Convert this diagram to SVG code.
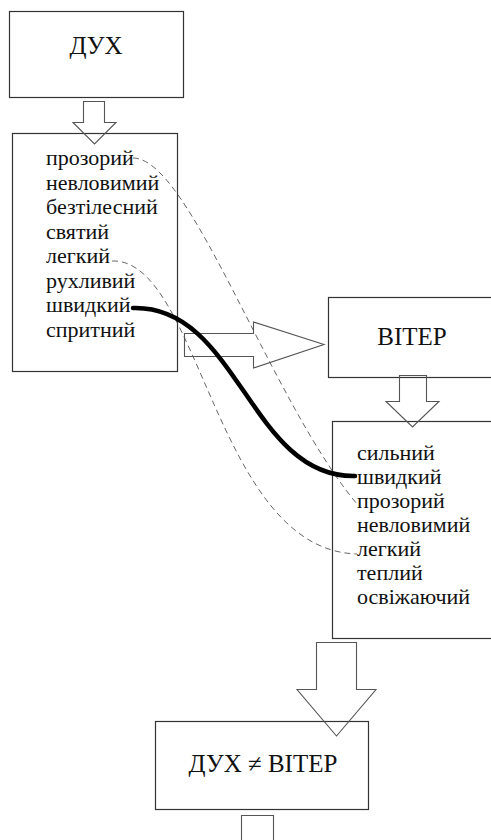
<svg xmlns="http://www.w3.org/2000/svg" width="491" height="840" viewBox="0 0 491 840">
<style>
.box{fill:#fff;stroke:#333;stroke-width:1.2}
.arr{fill:none;stroke:#555;stroke-width:1.1;stroke-linejoin:miter}
text{fill:#111}
.big{font-size:25px;text-anchor:middle}
.lst{font-size:22px}
.dash{fill:none;stroke:#555;stroke-width:0.9;stroke-dasharray:6 4}
.thick{fill:none;stroke:#000;stroke-width:4.5;stroke-linecap:round}
</style>
<rect width="491" height="840" fill="#fff"/>
<g id="n-dukh" font-family="Liberation Serif, serif">
<rect class="box" x="9.5" y="11.5" width="174" height="86"/>
<text class="big" x="96" y="54">ДУХ</text>
</g>
<g id="n-list-dukh" font-family="Liberation Serif, serif">
<rect class="box" x="12.5" y="133.5" width="165" height="238"/>
<text class="lst" x="46" y="165">прозорий</text>
<text class="lst" x="46" y="189.5">невловимий</text>
<text class="lst" x="46" y="214">безтілесний</text>
<text class="lst" x="46" y="238.5">святий</text>
<text class="lst" x="46" y="263">легкий</text>
<text class="lst" x="46" y="287.5">рухливий</text>
<text class="lst" x="46" y="312">швидкий</text>
<text class="lst" x="46" y="336.5">спритний</text>
</g>
<g id="n-viter" font-family="Liberation Serif, serif">
<rect class="box" x="328.5" y="297.5" width="170" height="80"/>
<text class="big" x="412" y="345">ВІТЕР</text>
</g>
<g id="n-list-viter" font-family="Liberation Serif, serif">
<rect class="box" x="332.5" y="421.5" width="166" height="217"/>
<text class="lst" x="357" y="460">сильний</text>
<text class="lst" x="357" y="484">швидкий</text>
<text class="lst" x="357" y="508">прозорий</text>
<text class="lst" x="357" y="532">невловимий</text>
<text class="lst" x="357" y="556">легкий</text>
<text class="lst" x="357" y="580">теплий</text>
<text class="lst" x="357" y="604">освіжаючий</text>
</g>
<g id="n-result" font-family="Liberation Serif, serif">
<rect class="box" x="155.5" y="721.5" width="213" height="88"/>
<text class="big" x="263" y="772">ДУХ ≠ ВІТЕР</text>
</g>
<g id="connectors">
<path class="arr" d="M83.5,101.5 H104.5 V122.5 H116 L94.5,144 L73,122.5 H83.5 Z"/>
<path class="arr" d="M184.5,333.5 H253.5 V322 L324,344.5 L253.5,368 V356.5 H184.5 Z"/>
<path class="arr" d="M399.5,375.5 H426.5 V401.5 H439 L412.5,427 L386,401.5 H399.5 Z"/>
<path class="arr" d="M316.5,642.5 H356.5 V689.5 H376 L336.5,736 L297,689.5 H316.5 Z"/>
<path class="arr" d="M241.5,845 V815.5 H273.5 V845"/>
<path class="dash" d="M133,158 C190,158 270,400 357,504"/>
<path class="dash" d="M112,261 C200,258 215,550 357,554"/>
<path class="thick" d="M133,308 C238,305 250,478 355,476"/>
</g>
</svg>
